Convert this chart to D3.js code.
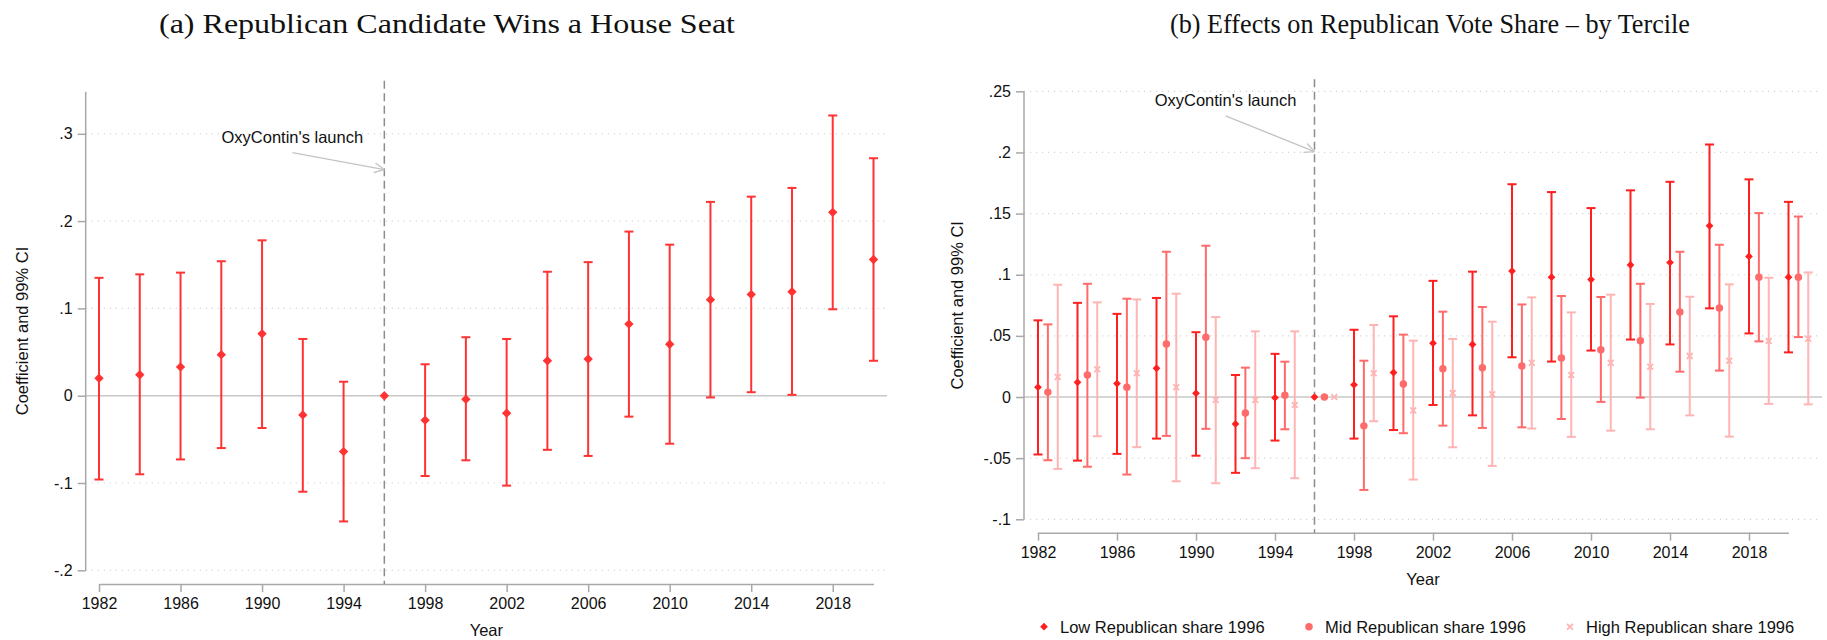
<!DOCTYPE html>
<html>
<head>
<meta charset="utf-8">
<script src="https://cdn.jsdelivr.net/npm/d3@7"></script>
<style>
  body { margin: 0; background: #fff; }
  text { font-family: "Liberation Sans", Arial, sans-serif; fill: #111; }
</style>
</head>
<body>
<script>
// ---- data ----
var years = [1982,1984,1986,1988,1990,1992,1994,1996,1998,2000,2002,2004,2006,2008,2010,2012,2014,2016,2018,2020];
var xTicks = [1982,1986,1990,1994,1998,2002,2006,2010,2014,2018];

// panel (a)
var winCoef = [0.020,0.024,0.033,0.047,0.071,-0.022,-0.064,0,-0.028,-0.004,-0.020,0.040,0.042,0.082,0.059,0.110,0.116,0.119,0.210,0.156];
var winLo   = [-0.096,-0.090,-0.073,-0.060,-0.037,-0.110,-0.144,null,-0.092,-0.074,-0.103,-0.062,-0.069,-0.024,-0.055,-0.002,0.004,0.001,0.099,0.040];
var winHi   = [0.135,0.139,0.141,0.154,0.178,0.065,0.016,null,0.036,0.067,0.065,0.142,0.153,0.188,0.173,0.222,0.228,0.238,0.321,0.272];
var yTicksA = [-0.2,-0.1,0,0.1,0.2,0.3];
var yLabelsA = ["-.2","-.1","0",".1",".2",".3"];

// panel (b)
var lowCoef = [0.008,0.012,0.011,0.0235,0.003,-0.022,-0.0005,0,0.010,0.020,0.044,0.043,0.103,0.098,0.096,0.108,0.110,0.140,0.115,0.098];
var lowLo   = [-0.047,-0.052,-0.0465,-0.034,-0.048,-0.062,-0.0356,null,-0.034,-0.027,-0.0065,-0.015,0.0325,0.029,0.038,0.047,0.043,0.0725,0.052,0.0365];
var lowHi   = [0.0627,0.077,0.068,0.081,0.053,0.018,0.0353,null,0.055,0.066,0.095,0.1025,0.174,0.1676,0.1545,0.169,0.176,0.2065,0.178,0.1596];
var midCoef = [0.004,0.018,0.008,0.0434,0.0488,-0.013,0.0014,0,-0.0236,0.0107,0.0232,0.024,0.0254,0.032,0.0387,0.046,0.0695,0.0728,0.098,0.098];
var midLo   = [-0.0517,-0.057,-0.0634,-0.0318,-0.026,-0.050,-0.0264,null,-0.076,-0.0296,-0.0234,-0.0253,-0.0248,-0.018,-0.004,-0.0005,0.0207,0.0216,0.0455,0.049];
var midHi   = [0.0594,0.0926,0.0804,0.1188,0.1237,0.024,0.0289,null,0.0297,0.051,0.0698,0.0736,0.0757,0.0826,0.0818,0.0926,0.1188,0.1245,0.1504,0.1476];
var highCoef = [0.0164,0.0227,0.0194,0.008,-0.0024,-0.0024,-0.0065,0,0.0194,-0.0109,0.0033,0.0022,0.0279,0.018,0.0279,0.0248,0.0336,0.0297,0.0458,0.0477];
var highLo   = [-0.0588,-0.0321,-0.041,-0.0689,-0.0705,-0.0582,-0.0664,null,-0.0198,-0.0675,-0.0411,-0.0563,-0.0258,-0.0326,-0.0275,-0.0264,-0.015,-0.0324,-0.0056,-0.006];
var highHi   = [0.0918,0.0774,0.0798,0.0845,0.0654,0.0537,0.0537,null,0.0589,0.0461,0.0475,0.0616,0.0815,0.0692,0.0837,0.0761,0.082,0.0921,0.0975,0.1019];
var yTicksB = [-0.1,-0.05,0,0.05,0.1,0.15,0.2,0.25];
var yLabelsB = ["-.1","-.05","0",".05",".1",".15",".2",".25"];

var seriesNames = ["Low Republican share 1996","Mid Republican share 1996","High Republican share 1996"];
var seriesShift = [0, 0.5, 1];   // years
var launchYear = 1996;

var W = 1827, H = 640;
var gray = "#a8a8a8";

var svg = d3.select("body").append("svg")
  .attr("width", W).attr("height", H);
svg.append("rect").attr("width", W).attr("height", H).attr("fill", "#fff");

function rows(c, lo, hi, shift) {
  return years.map(function(y, i) {
    return {x: y + shift, c: c[i], lo: lo[i], hi: hi[i]};
  });
}

function marker(type, size) {
  if (type == "diamond") return d3.symbol(d3.symbolSquare, size)();
  if (type == "circle") return d3.symbol(d3.symbolCircle, size)();
  return d3.symbol(d3.symbolX, size)();
}

function drawPanel(p) {
  var x = d3.scaleLinear().domain([1982, 2020]).range(p.xr);
  var y = d3.scaleLinear().domain(p.yd).range(p.yr);
  var g = svg.append("g");

  // grid
  g.selectAll(".grid").data(p.yTicks.filter(function(d){ return d != 0; }))
    .enter().append("line")
    .attr("x1", p.axisX).attr("x2", p.right)
    .attr("y1", function(d){ return y(d); }).attr("y2", function(d){ return y(d); })
    .attr("stroke", "#d4d4d4").attr("stroke-width", 1.2)
    .attr("stroke-dasharray", "1.2,4.8");
  g.append("line")
    .attr("x1", p.axisX).attr("x2", p.right)
    .attr("y1", y(0)).attr("y2", y(0))
    .attr("stroke", "#c8c8c8").attr("stroke-width", 1.5);

  // y axis
  var ya = g.append("g").attr("transform", "translate(" + p.axisX + ",0)")
    .call(d3.axisLeft(y).tickValues(p.yTicks)
      .tickFormat(function(d, i){ return p.yLabels[i]; })
      .tickSize(8).tickPadding(5));
  ya.select(".domain").remove();
  ya.selectAll("line").attr("stroke", gray).attr("stroke-width", 1.5);
  ya.selectAll("text").attr("font-size", 16).attr("font-family", "Liberation Sans").attr("fill", "#111");
  g.append("line")
    .attr("x1", p.axisX).attr("x2", p.axisX)
    .attr("y1", y(p.yd[0])).attr("y2", p.axisTop)
    .attr("stroke", gray).attr("stroke-width", 1.5);

  // x axis
  var xa = g.append("g").attr("transform", "translate(0," + p.xAxisY + ")")
    .call(d3.axisBottom(x).tickValues(xTicks).tickFormat(d3.format("d"))
      .tickSize(8).tickSizeOuter(0).tickPadding(6));
  xa.select(".domain").attr("stroke", gray).attr("stroke-width", 1.5);
  xa.selectAll("line").attr("stroke", gray).attr("stroke-width", 1.5);
  xa.selectAll("text").attr("font-size", 16).attr("font-family", "Liberation Sans").attr("fill", "#111");

  // axis titles
  g.append("text")
    .attr("transform", "translate(" + p.ylabX + "," + (y(p.yd[0]) + p.axisTop) / 2 + ") rotate(-90)")
    .attr("text-anchor", "middle").attr("dominant-baseline", "central")
    .attr("font-size", 16.5).text("Coefficient and 99% CI");
  g.append("text")
    .attr("x", (p.axisX + p.right) / 2).attr("y", p.xAxisY + 52)
    .attr("text-anchor", "middle").attr("font-size", 16.5).text("Year");

  // launch line
  g.append("line")
    .attr("x1", x(launchYear)).attr("x2", x(launchYear))
    .attr("y1", p.dashTop).attr("y2", p.xAxisY)
    .attr("stroke", "#8c8c8c").attr("stroke-width", 1.5)
    .attr("stroke-dasharray", "8,4.5");

  // annotation arrow
  var hx = x(launchYear), hy = y(p.arrowVal);
  var tx = hx + p.tail[0], ty = hy + p.tail[1];
  var ang = Math.atan2(ty - hy, tx - hx);
  g.append("line").attr("x1", tx).attr("y1", ty).attr("x2", hx).attr("y2", hy)
    .attr("stroke", "#c4c4c4").attr("stroke-width", 1.3);
  [-0.45, 0.45].forEach(function(a) {
    g.append("line").attr("x1", hx).attr("y1", hy)
      .attr("x2", hx + 11 * Math.cos(ang + a)).attr("y2", hy + 11 * Math.sin(ang + a))
      .attr("stroke", "#c4c4c4").attr("stroke-width", 1.3);
  });
  g.append("text").attr("x", tx).attr("y", ty - 9.5)
    .attr("text-anchor", "middle").attr("font-size", 16.5).text("OxyContin's launch");

  // series
  p.series.forEach(function(s) {
    var sg = g.append("g");
    var bars = s.data.filter(function(d){ return d.lo != null; });
    sg.selectAll(".bar").data(bars).enter().append("line")
      .attr("x1", function(d){ return x(d.x); }).attr("x2", function(d){ return x(d.x); })
      .attr("y1", function(d){ return y(d.lo); }).attr("y2", function(d){ return y(d.hi); })
      .attr("stroke", s.color).attr("stroke-width", 2);
    ["lo", "hi"].forEach(function(k) {
      sg.selectAll(".cap" + k).data(bars).enter().append("line")
        .attr("x1", function(d){ return x(d.x) - 4.5; }).attr("x2", function(d){ return x(d.x) + 4.5; })
        .attr("y1", function(d){ return y(d[k]); }).attr("y2", function(d){ return y(d[k]); })
        .attr("stroke", s.color).attr("stroke-width", 2);
    });
    sg.selectAll(".pt").data(s.data).enter().append("path")
      .attr("d", marker(s.shape, s.size))
      .attr("transform", function(d){
        return "translate(" + x(d.x) + "," + y(d.c) + ")" + (s.shape == "diamond" ? " rotate(45)" : "");
      })
      .attr("fill", s.shape == "x" ? "none" : s.color)
      .attr("stroke", s.color).attr("stroke-width", s.shape == "x" ? 1.8 : 0);
  });

  // title
  svg.append("text").attr("x", p.titleX).attr("y", 33)
    .attr("text-anchor", "middle")
    .style("font-family", "'Liberation Serif', 'DejaVu Serif', serif")
    .attr("font-size", 28)
    .attr("textLength", p.titleW).attr("lengthAdjust", "spacingAndGlyphs")
    .text(p.title);

  return {x: x, y: y};
}

drawPanel({
  title: "(a) Republican Candidate Wins a House Seat", titleX: 447, titleW: 576,
  xr: [99, 873.5], yd: [-0.2, 0.3], yr: [570.3, 133.8],
  axisX: 85.7, right: 887, axisTop: 91.7, xAxisY: 584, dashTop: 80.7, ylabX: 22,
  yTicks: yTicksA, yLabels: yLabelsA,
  arrowVal: 0.259, tail: [-92, -17],
  series: [{data: rows(winCoef, winLo, winHi, 0), color: "#ff3333", shape: "diamond", size: 44}]
});

var colors = ["#ff1f1f", "#ff6a6a", "#ffb4b4"];
var shapes = ["diamond", "circle", "x"];
var sizes = [30, 44, 24];

drawPanel({
  title: "(b) Effects on Republican Vote Share \u2013 by Tercile", titleX: 1430, titleW: 520,
  xr: [1038, 1788.5], yd: [-0.1, 0.25], yr: [519.3, 91.3],
  axisX: 1024, right: 1822, axisTop: 91.3, xAxisY: 532.7, dashTop: 79.3, ylabX: 957,
  yTicks: yTicksB, yLabels: yLabelsB,
  arrowVal: 0.2007, tail: [-89, -35.7],
  series: [
    {data: rows(lowCoef, lowLo, lowHi, seriesShift[0]), color: colors[0], shape: shapes[0], size: sizes[0]},
    {data: rows(midCoef, midLo, midHi, seriesShift[1]), color: colors[1], shape: shapes[1], size: sizes[1]},
    {data: rows(highCoef, highLo, highHi, seriesShift[2]), color: colors[2], shape: shapes[2], size: sizes[2]}
  ]
});

// legend
var legX = [1044, 1309, 1570];
var leg = svg.append("g");
seriesNames.forEach(function(name, i) {
  leg.append("path").attr("d", marker(shapes[i], sizes[i]))
    .attr("transform", "translate(" + legX[i] + ",626.7)" + (shapes[i] == "diamond" ? " rotate(45)" : ""))
    .attr("fill", shapes[i] == "x" ? "none" : colors[i])
    .attr("stroke", colors[i]).attr("stroke-width", shapes[i] == "x" ? 1.8 : 0);
  leg.append("text").attr("x", legX[i] + 16).attr("y", 626.7)
    .attr("dominant-baseline", "central").attr("font-size", 16.5).text(name);
});
</script>
</body>
</html>
